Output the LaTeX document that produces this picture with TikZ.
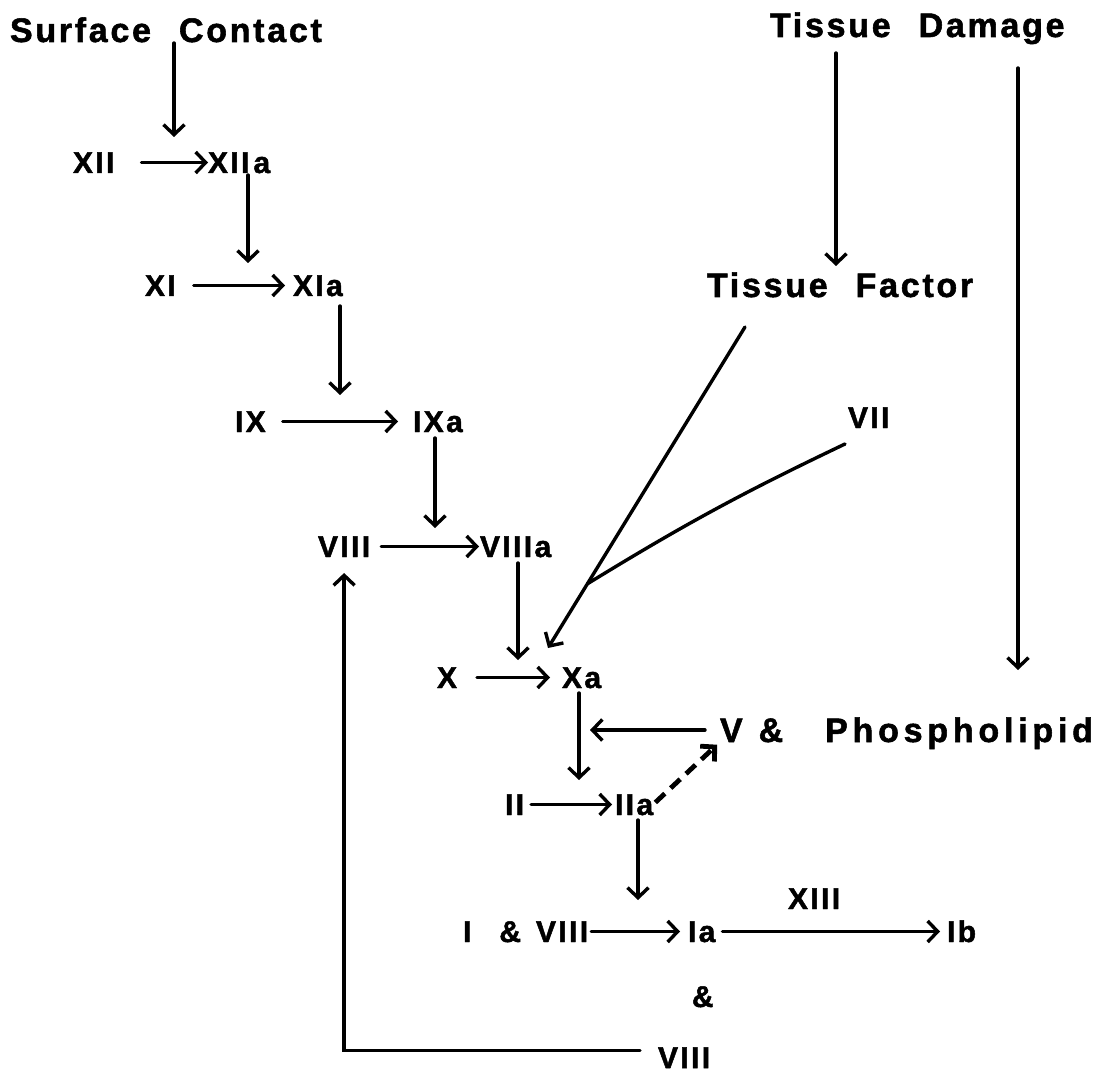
\documentclass[tikz,border=0pt]{standalone}
\usepackage{fontspec}
\usetikzlibrary{calc}
\usetikzlibrary{arrows.meta}
\newfontfamily\numfont{Liberation Sans Bold}[LetterSpace=8,WordSpace=2.2,FakeBold=1.6]
\newfontfamily\wordfont{Liberation Sans Bold}[LetterSpace=8,WordSpace=2.3,FakeBold=1.6]
\newfontfamily\widefont{Liberation Sans Bold}[LetterSpace=14,FakeBold=1.6]

\begin{document}
\begin{tikzpicture}[x=1pt, y=-1pt,
    num/.style={anchor=base west, inner sep=0pt, outer sep=0pt, text height=21pt, text depth=0pt,
      font=\numfont\fontsize{30}{36}\selectfont},
    word/.style={anchor=base west, inner sep=0pt, outer sep=0pt, text height=24pt, text depth=0pt,
      font=\wordfont\fontsize{34}{40}\selectfont},
    arr/.style={-{Straight Barb[length=10pt,width=21pt]}, line width=3.4pt, line cap=round},
    dasharr/.style={-{Straight Barb[length=10pt,width=21pt]}, line width=4.8pt, dash pattern=on 13pt off 8pt}]
    \useasboundingbox (0,0) rectangle (1095,1083);
    \node[word] (sc) at (10,42) {Surface Contact};
    \node[word] (td) at (770,37) {Tissue Damage};
    \node[word] (tf) at (707,297) {Tissue Factor};
    \node[num] (xii) at (73,173) {XII};
    \node[num] (xiia) at (208,173) {XII\hspace{4pt}a};
    \node[num] (xi) at (145,296) {XI};
    \node[num] (xia) at (293,296) {XIa};
    \node[num] (ix) at (235,432) {IX};
    \node[num] (ixa) at (413,432) {IXa};
    \node[num] (viii) at (318,557) {VIII};
    \node[num] (viiia) at (480,557) {VIIIa};
    \node[num] (vii) at (848,428) {VII};
    \node[num] (x) at (437,688) {X};
    \node[num] (xa) at (562,688) {Xa};
    \node[word] (vp) at (720,742) {V\hspace{16pt}\&\hspace{42pt}{\widefont Phospholipid}};
    \node[num] (ii) at (505,815) {II};
    \node[num] (iia) at (615,815) {IIa};
    \node[num] (i) at (463,942) {I\hspace{28pt}\&\hspace{15pt}VIII};
    \node[num] (ia) at (688,942) {Ia};
    \node[num] (ib) at (947,942) {Ib};
    \node[num] (xiii) at (788,909) {XIII};
    \node[num] (amp) at (692,1007) {\&};
    \node[num] (viiib) at (658,1068) {VIII};
    \coordinate (c1) at (174,137);
    \coordinate (c2) at (248,263);
    \coordinate (c3) at (340,395);
    \coordinate (c4) at (435,528);
    \coordinate (c5) at (518,660);
    \coordinate (c6) at (579,780);
    \coordinate (c7) at (590,727);
    \coordinate (c8) at (638,900);
    \coordinate (tfa) at (745,327);
    \coordinate (xtip) at (548,648);
    \coordinate (j) at ($(tfa)!0.8!(xtip)$);
    \coordinate (viis) at (845,444);
    \coordinate (dmg) at (1018,670);
    \coordinate (tfx) at (836,0);
    \draw[arr, shorten <=1pt] (sc.south -| c1) -- (c1);
    \draw[arr, shorten <=27pt] (xii.east) -- (xiia.west);
    \draw[arr, shorten <=2pt] (xiia.south -| c2) -- (c2);
    \draw[arr, shorten <=18pt, shorten >=8pt] (xi.east) -- (xia.west);
    \draw[arr, shorten <=10pt] (xia.south -| c3) -- (c3);
    \draw[arr, shorten <=17pt, shorten >=15pt] (ix.east) -- (ixa.west);
    \draw[arr, shorten <=6pt] (ixa.south -| c4) -- (c4);
    \draw[arr, shorten <=11pt, shorten >=1pt] (viii.east) -- (viiia.west);
    \draw[arr, shorten <=6pt] (viiia.south -| c5) -- (c5);
    \draw[arr, shorten <=20pt, shorten >=12pt] (x.east) -- (xa.west);
    \draw[arr, shorten <=5pt] (xa.south -| c6) -- (c6);
    \draw[arr, shorten <=15pt] (vp.west) -- (vp.west -| c7);
    \draw[arr, shorten <=7pt, shorten >=3pt] (ii.east) -- (iia.west);
    \draw[dasharr, shorten <=3pt, shorten >=4pt] (iia.east) -- (vp.south west);
    \draw[arr, shorten <=5pt] (iia.south -| c8) -- (c8);
    \draw[arr, shorten <=3pt, shorten >=8pt] (i.east) -- (ia.west);
    \draw[arr, shorten <=7pt, shorten >=7pt] (ia.east) -- (ib.west);
    \draw[arr, shorten <=18pt, shorten >=16pt] ([yshift=7pt]viiib.west) -| (viii.south);
    \draw[arr] (tfa) -- (xtip);
    \draw[line width=3.4pt, line cap=round] (viis) to[bend right=3] (j);
    \draw[arr, shorten <=16pt, shorten >=7pt] (td.south -| tfx) -- (tf.north -| tfx);
    \draw[arr, shorten <=31pt] (td.south -| dmg) -- (dmg);
\end{tikzpicture}
\end{document}
